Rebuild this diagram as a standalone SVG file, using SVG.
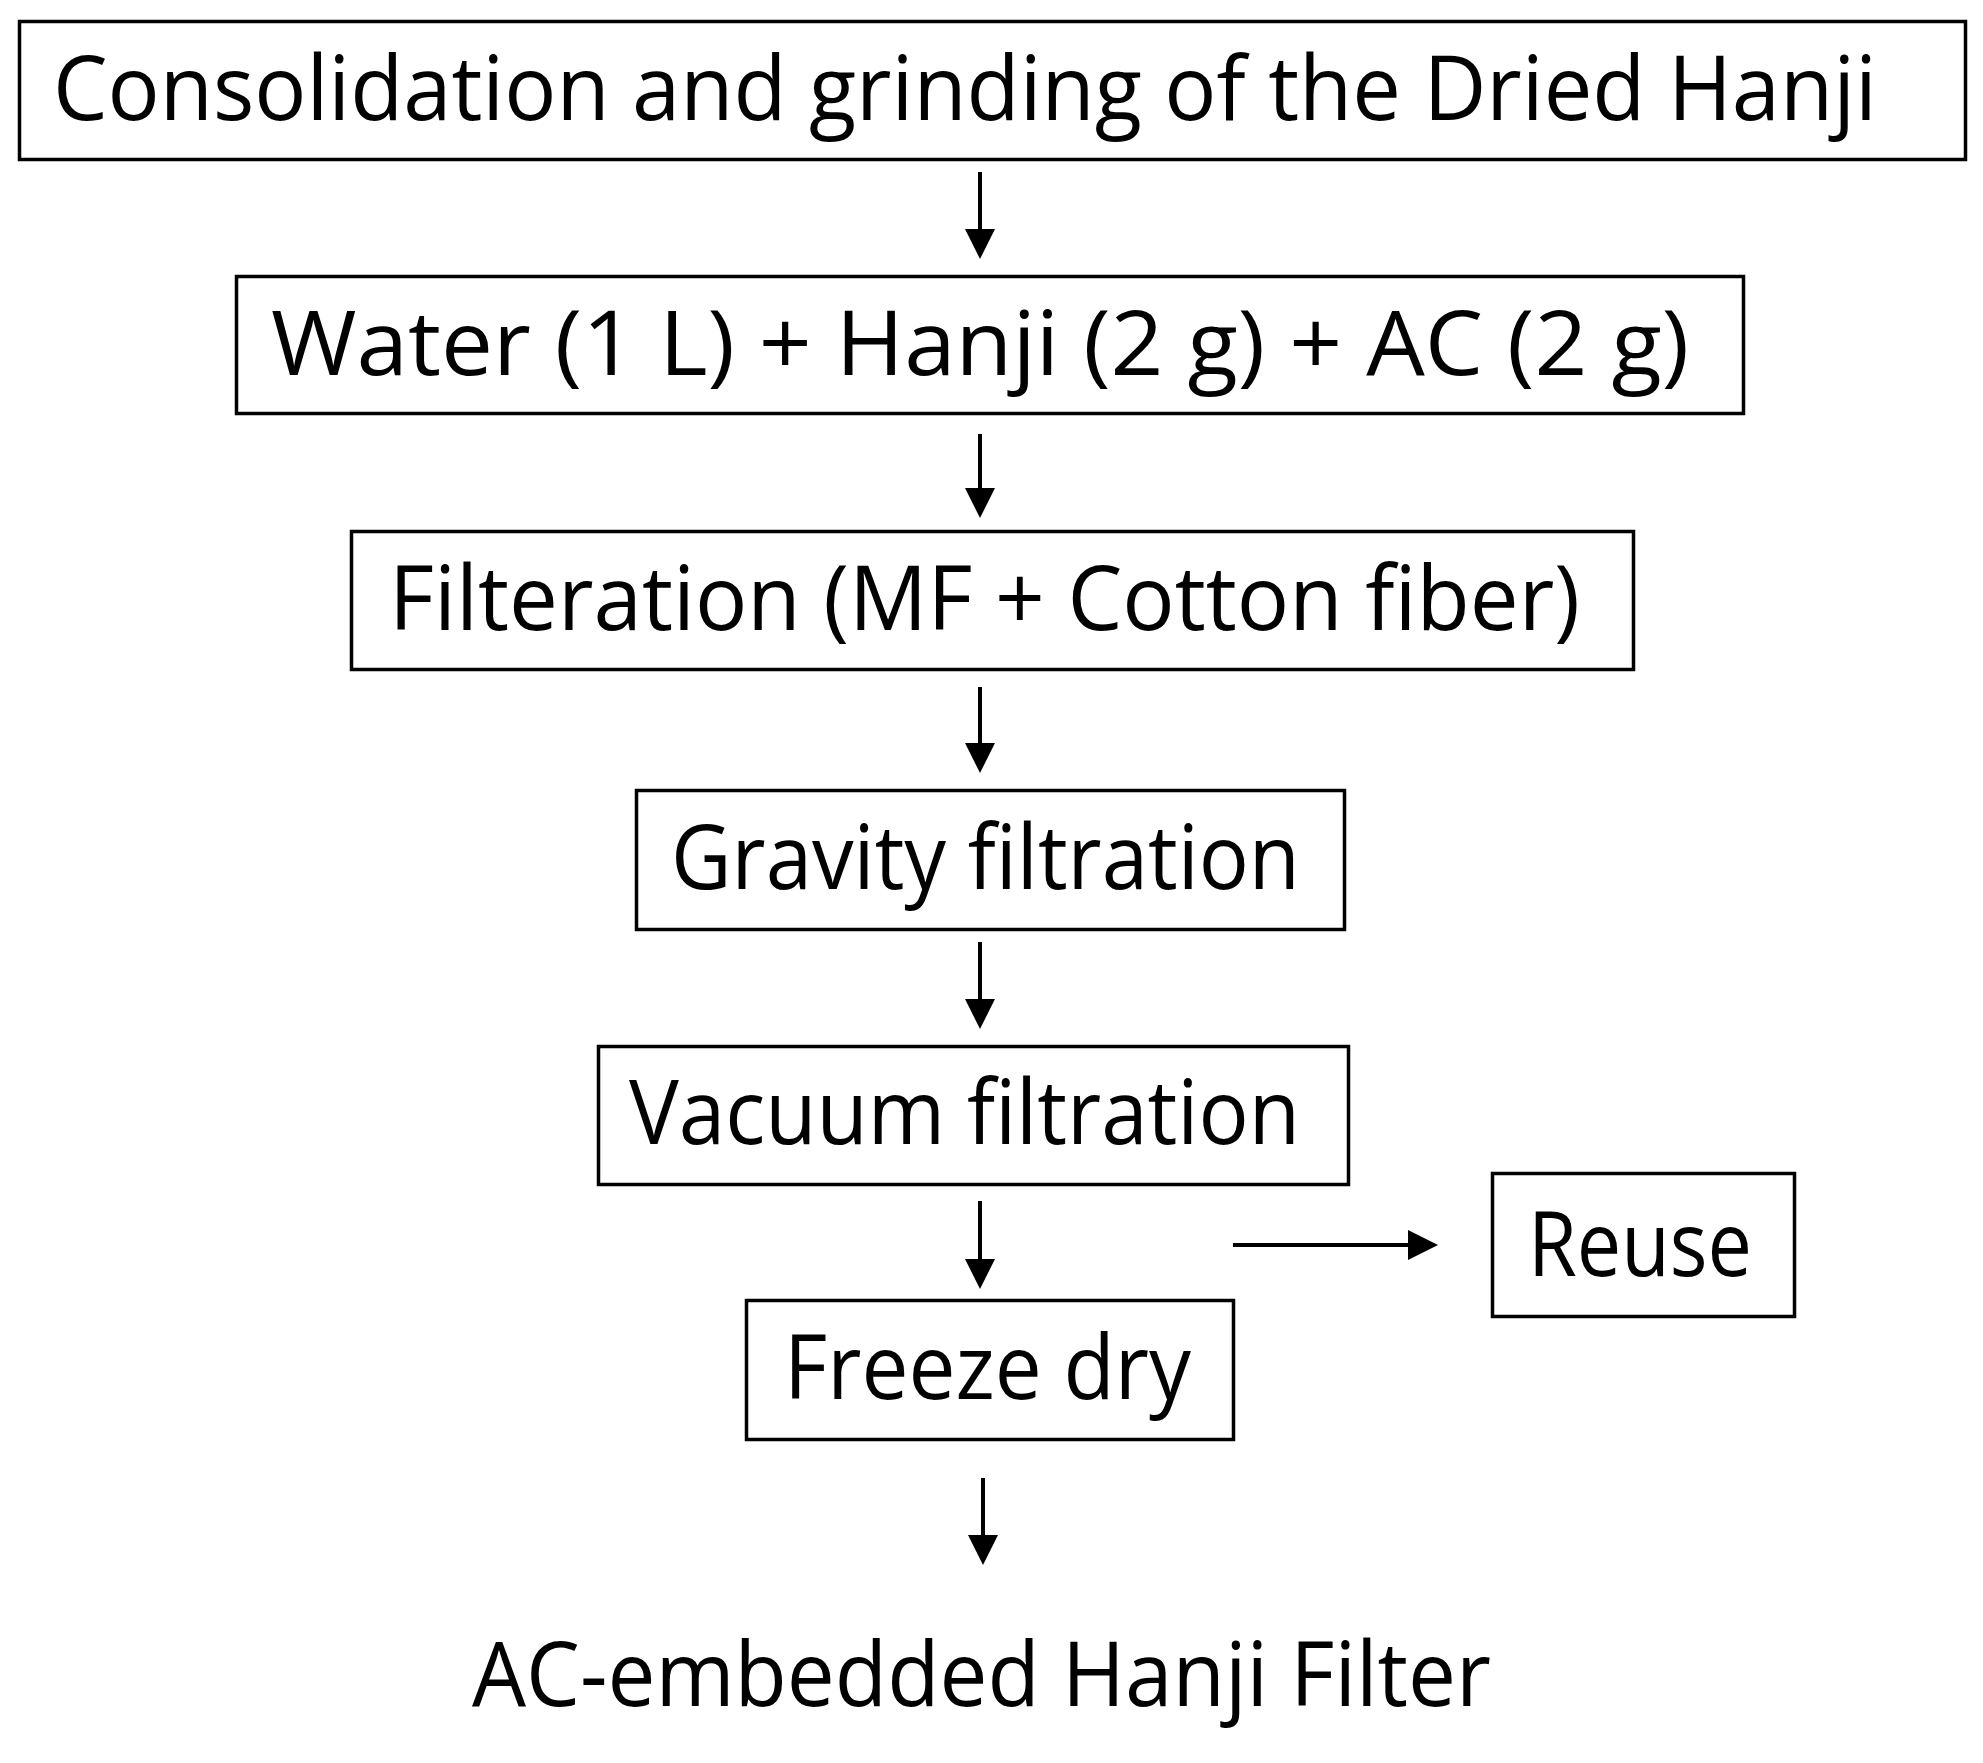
<svg xmlns="http://www.w3.org/2000/svg" width="1983" height="1763" viewBox="0 0 1983 1763">
<style>
.box{fill:#fff;stroke:#000;stroke-width:3.5}
.t{font-family:"Open Sans","Noto Sans",sans-serif;font-size:90px;fill:#000}
.c{stroke:#000;stroke-width:4;fill:none;marker-end:url(#ah)}
</style>
<defs>
<marker id="ah" markerUnits="userSpaceOnUse" markerWidth="30" markerHeight="30" refX="15" refY="15" orient="auto" viewBox="0 0 30 30">
<path d="M0,0 L30,15 L0,30 z" fill="#000"/>
</marker>
</defs>
<rect width="1983" height="1763" fill="#fff"/>
<g id="connectors">
<line class="c" x1="980" y1="172" x2="980" y2="244"/>
<line class="c" x1="980" y1="434" x2="980" y2="503"/>
<line class="c" x1="980" y1="687" x2="980" y2="758"/>
<line class="c" x1="980" y1="942" x2="980" y2="1014"/>
<line class="c" x1="980" y1="1201" x2="980" y2="1274"/>
<line class="c" x1="983" y1="1478" x2="983" y2="1550"/>
<line class="c" x1="1233" y1="1245" x2="1423" y2="1245"/>
</g>
<g id="n1"><rect class="box" x="19.5" y="21.5" width="1946" height="138"/><text class="t" x="53" y="120" textLength="1824" lengthAdjust="spacingAndGlyphs">Consolidation and grinding of the Dried Hanji</text></g>
<g id="n2"><rect class="box" x="236.5" y="276.5" width="1507" height="137"/><text class="t" x="271" y="375" textLength="1418" lengthAdjust="spacingAndGlyphs">Water (1 L) + Hanji (2 g) + AC (2 g)</text></g>
<g id="n3"><rect class="box" x="351.5" y="531.5" width="1282" height="138"/><text class="t" x="389" y="630" textLength="1191" lengthAdjust="spacingAndGlyphs">Filteration (MF + Cotton fiber)</text></g>
<g id="n4"><rect class="box" x="636.5" y="790.5" width="708" height="139"/><text class="t" x="671" y="889" textLength="629" lengthAdjust="spacingAndGlyphs">Gravity filtration</text></g>
<g id="n5"><rect class="box" x="598.5" y="1046.5" width="750" height="138"/><text class="t" x="629" y="1144" textLength="671" lengthAdjust="spacingAndGlyphs">Vacuum filtration</text></g>
<g id="n6"><rect class="box" x="746.5" y="1300.5" width="487" height="139"/><text class="t" x="784" y="1399" textLength="407" lengthAdjust="spacingAndGlyphs">Freeze dry</text></g>
<g id="n7"><rect class="box" x="1492.5" y="1173.5" width="302" height="143"/><text class="t" x="1528" y="1276" textLength="224" lengthAdjust="spacingAndGlyphs">Reuse</text></g>
<g id="n8"><text class="t" x="472" y="1706" textLength="1019" lengthAdjust="spacingAndGlyphs">AC-embedded Hanji Filter</text></g>
</svg>
